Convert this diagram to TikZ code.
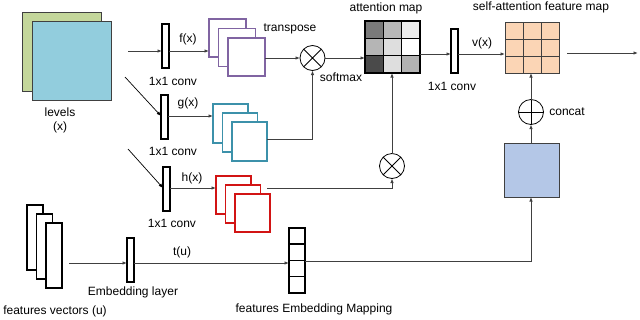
\documentclass[tikz,border=0pt]{standalone}
\usepackage{fontspec}
\setmainfont{Liberation Sans}
\usetikzlibrary{arrows.meta}
\definecolor{lvgreen}{RGB}{196,215,155}
\definecolor{lvblue}{RGB}{146,205,221}
\definecolor{fpurple}{RGB}{128,100,162}
\definecolor{gteal}{RGB}{60,145,170}
\definecolor{hred}{RGB}{210,20,20}
\definecolor{peach}{RGB}{251,213,181}
\definecolor{bluebox}{RGB}{180,199,231}
\definecolor{linegray}{RGB}{64,64,64}
\tikzset{
  lbl/.style={font=\fontsize{12}{14}\selectfont, inner sep=0pt},
  conv/.style={draw=black, line width=1.2pt, fill=white, minimum width=7pt, minimum height=44pt, inner sep=0pt, outer sep=0pt, anchor=north west},
  bigsq/.style={draw=linegray, line width=0.9pt, inner sep=0pt, outer sep=0pt, minimum width=79pt, minimum height=79pt, anchor=north west},
  stackbox/.style={line width=1.2pt, fill=white, inner sep=0pt, outer sep=0pt, anchor=north west},
  arr/.style={draw=linegray, line width=0.9pt, -{Latex[length=4.5pt,width=3.5pt]}},
  ln/.style={draw=linegray, line width=0.9pt},
  opcirc/.style={circle, draw=black, line width=0.8pt, minimum size=25pt, inner sep=0pt, outer sep=0pt},
}
\begin{document}
\begin{tikzpicture}[x=1pt,y=-1pt]
\useasboundingbox (0,0) rectangle (640,319);

% levels input
\node[bigsq, fill=lvgreen] (lv1) at (22,12) {};
\node[bigsq, fill=lvblue] (lv2) at (32,21) {};
\node[lbl] (lvt) at (60,112) {levels};
\node[lbl] (lvx) at (60,127) {(x)};

% 1x1 convs
\node[conv] (c1) at (162,24) {};
\node[conv] (c2) at (161,95) {};
\node[conv] (c3) at (163,167) {};
\node[lbl] (c1t) at (173,81) {1x1 conv};
\node[lbl] (c2t) at (173,151) {1x1 conv};
\node[lbl] (c3t) at (172,223) {1x1 conv};
\node[lbl] (fx) at (188,39) {f(x)};
\node[lbl] (gx) at (188,103) {g(x)};
\node[lbl] (hx) at (192,178) {h(x)};

% input arrows
\coordinate (s1) at (128,51);
\coordinate (s2) at (125,77);
\coordinate (s3) at (128,149);
\draw[arr] (s1) -- (c1.west |- s1);
\draw[arr, draw=black, line width=0.7pt] (s2) -- (c2.west |- 0,116);
\draw[arr, draw=black, line width=0.7pt] (s3) -- (c3.west |- 0,188);

% f stack
\node[stackbox, draw=fpurple, minimum width=37pt, minimum height=38pt] (f1) at (209,19) {};
\node[stackbox, draw=fpurple, minimum width=37pt, minimum height=38pt] (f2) at (218.5,28.5) {};
\node[stackbox, draw=fpurple, minimum width=37pt, minimum height=38pt] (f3) at (228,38) {};
% g stack
\node[stackbox, draw=gteal, minimum width=35pt, minimum height=39pt] (g1) at (213,104) {};
\node[stackbox, draw=gteal, minimum width=35pt, minimum height=39pt] (g2) at (222.5,113) {};
\node[stackbox, draw=gteal, minimum width=35pt, minimum height=39pt] (g3) at (232,122) {};
% h stack
\node[stackbox, draw=hred, minimum width=35pt, minimum height=38pt] (h1) at (216,176) {};
\node[stackbox, draw=hred, minimum width=35pt, minimum height=38pt] (h2) at (225.5,185) {};
\node[stackbox, draw=hred, minimum width=35pt, minimum height=38pt] (h3) at (235,194) {};

\draw[arr] (c1.east |- 0,51) -- (f1.west |- 0,51);
\draw[arr] (c2.east |- 0,116) -- (g1.west |- 0,116);
\draw[arr] (c3.east |- 0,188) -- (h1.west |- 0,188);

\node[lbl] (tr) at (290,29) {transpose};

% multiply circles
\node[opcirc] (o1) at (312.5,58) {};
\draw[line width=0.8pt] (o1.45) -- (o1.225) (o1.135) -- (o1.315);
\node[opcirc] (o2) at (392,166) {};
\draw[line width=0.8pt] (o2.45) -- (o2.225) (o2.135) -- (o2.315);
\node[lbl] (sm) at (341,77) {softmax};

\draw[arr] (f3.east |- o1.west) -- (o1.west);
\draw[arr] (g3.east |- 0,139) -| (o1.south);
\coordinate (hs) at (267,188);
\draw[arr] (hs) -| (o2.south);

% attention map
\node[draw=none, inner sep=0pt, outer sep=0pt, minimum width=55pt, minimum height=52pt, anchor=north west] (att) at (365,21) {};
\fill[black!52] (365,21) rectangle ++(18.33,17.33);
\fill[black!28] (383.33,21) rectangle ++(18.33,17.33);
\fill[black!7] (401.67,21) rectangle ++(18.33,17.33);
\fill[black!29] (365,38.33) rectangle ++(18.33,17.33);
\fill[black!13] (383.33,38.33) rectangle ++(18.33,17.33);
\fill[white] (401.67,38.33) rectangle ++(18.33,17.33);
\fill[black!71] (365,55.67) rectangle ++(18.33,17.33);
\fill[black!13] (383.33,55.67) rectangle ++(18.33,17.33);
\fill[black!30] (401.67,55.67) rectangle ++(18.33,17.33);
\draw[line width=0.8pt] (383.33,21) -- (383.33,73) (401.67,21) -- (401.67,73)
  (365,38.33) -- (420,38.33) (365,55.67) -- (420,55.67);
\draw[line width=1.4pt] (att.north west) rectangle (att.south east);
\node[lbl] (attt) at (386,8) {attention map};

\draw[arr] (o1.east) -- (att.west |- o1.east);
\draw[arr] (o2.north) -- (att.south -| o2.north);

% conv v
\node[conv] (c4) at (451,29) {};
\node[lbl] (c4t) at (452,86) {1x1 conv};
\node[lbl] (vx) at (482,43) {v(x)};
\draw[arr] (att.east |- 0,54) -- (c4.west |- 0,54);

% self-attention feature map
\node[draw=linegray, fill=peach, line width=1pt, inner sep=0pt, outer sep=0pt, minimum width=54pt, minimum height=51pt, anchor=north west] (fm) at (505,22) {};
\draw[linegray, line width=0.8pt] (523,22) -- (523,73) (541,22) -- (541,73)
  (505,39) -- (559,39) (505,56) -- (559,56);
\node[lbl] (fmt) at (541,7) {self-attention feature map};
\draw[arr] (c4.east |- 0,54) -- (fm.west |- 0,54);
\coordinate (o0) at (567,53);
\coordinate (oe) at (638,53);
\draw[arr] (o0) -- (oe);

% concat
\node[opcirc] (cc) at (531,112) {};
\draw[line width=0.8pt] (cc.north) -- (cc.south) (cc.east) -- (cc.west);
\node[lbl] (cct) at (567,112) {concat};
\draw[arr] (cc.north) -- (fm.south -| cc.north);

\node[draw=linegray, fill=bluebox, line width=1pt, inner sep=0pt, outer sep=0pt, minimum width=55pt, minimum height=54pt, anchor=north west] (bb) at (504,143) {};
\draw[arr] (bb.north -| cc.south) -- (cc.south);

% features vectors
\node[stackbox, draw=black, minimum width=16pt, minimum height=65pt] (u1) at (27,205) {};
\node[stackbox, draw=black, minimum width=16pt, minimum height=65pt] (u2) at (36.5,214) {};
\node[stackbox, draw=black, minimum width=16pt, minimum height=65pt] (u3) at (46,223) {};
\node[lbl] (ut) at (55,311) {features vectors (u)};

\node[conv, minimum height=44pt] (el) at (127,238) {};
\node[lbl] (elt) at (133,292) {Embedding layer};
\node[lbl] (tu) at (182,252) {t(u)};

\node[draw=black, line width=1.2pt, fill=white, inner sep=0pt, outer sep=0pt, minimum width=16pt, minimum height=65pt, anchor=north west] (emb) at (289,228) {};
\draw[line width=1.2pt] (289,244) -- (305,244) (289,260.5) -- (305,260.5) (289,276.5) -- (305,276.5);
\node[lbl] (embt) at (314,309) {features Embedding Mapping};

\coordinate (us) at (69,263);
\draw[arr] (us) -- (el.west |- us);
\draw[arr] (el.east |- us) -- (emb.west |- us);
\draw[arr] (emb.east |- 0,261) -| (bb.south -| cc.south);
\end{tikzpicture}
\end{document}
